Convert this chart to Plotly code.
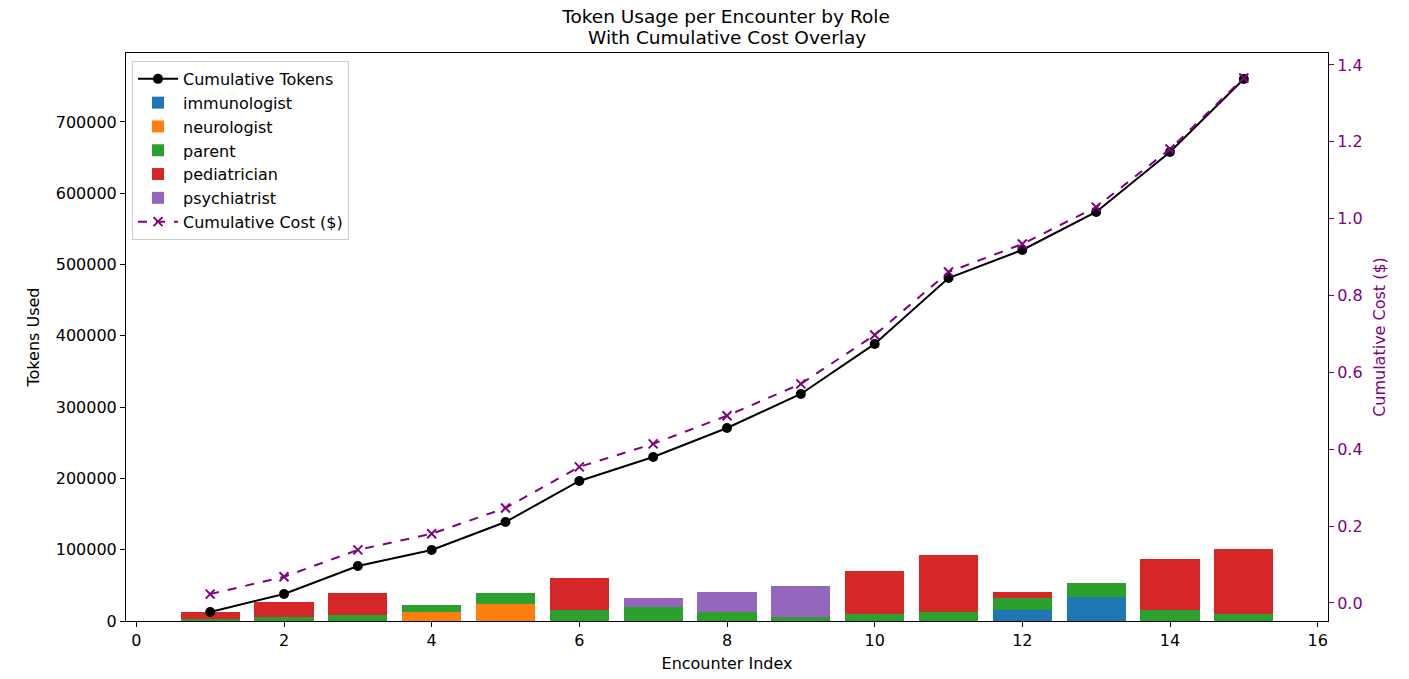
import plotly.graph_objects as go

encounters = list(range(1, 16))
roles = ["immunologist", "neurologist", "parent", "pediatrician", "psychiatrist"]
role_colors = ["#1f77b4", "#ff7f0e", "#2ca02c", "#d62728", "#9467bd"]

immunologist = [0, 0, 0, 0, 0, 0, 0, 0, 0, 0, 0, 15900, 33700, 0, 0]
neurologist = [0, 0, 0, 13000, 24300, 0, 0, 0, 0, 0, 0, 0, 0, 0, 0]
parent = [2800, 6000, 8000, 9400, 14500, 15900, 19200, 13100, 6100, 9400, 13100, 16800, 19600, 15900, 9400]
pediatrician = [10000, 20200, 30800, 0, 0, 44000, 0, 0, 0, 60300, 79500, 8000, 0, 70600, 91200]
psychiatrist = [0, 0, 0, 0, 0, 0, 13100, 27600, 42600, 0, 0, 0, 0, 0, 0]

cumulative_tokens = [12600, 37900, 77100, 99600, 138900, 196400, 230000, 270700,
                     318400, 388600, 481100, 520400, 573700, 657900, 760300]
cumulative_cost = [0.023, 0.068, 0.138, 0.180, 0.247, 0.354, 0.414, 0.487,
                   0.570, 0.697, 0.861, 0.934, 1.030, 1.181, 1.366]

title_line1 = "Token Usage per Encounter by Role"
title_line2 = "With Cumulative Cost Overlay"

role_values = [immunologist, neurologist, parent, pediatrician, psychiatrist]

FONT = "DejaVu Sans"
FS = 16
fig = go.Figure()

fig.add_trace(go.Scatter(
    x=encounters, y=cumulative_tokens, name="Cumulative Tokens",
    mode="lines+markers", line=dict(color="black", width=2),
    marker=dict(color="black", size=10), yaxis="y", legendgroup="g0"))

for i, (role, col, vals) in enumerate(zip(roles, role_colors, role_values)):
    fig.add_trace(go.Bar(
        x=encounters, y=vals, name=role, width=0.8,
        marker=dict(color=col, line=dict(width=0)), yaxis="y",
        legendgroup="g%d" % (i + 1)))

fig.add_trace(go.Scatter(
    x=encounters, y=cumulative_cost, name="Cumulative Cost ($)",
    mode="lines+markers", line=dict(color="purple", width=2, dash="dash"),
    marker=dict(symbol="x-thin", size=9, color="purple",
                line=dict(color="purple", width=2)),
    yaxis="y2", legendgroup="g6"))

fig.update_layout(
    width=1409, height=679,
    barmode="stack",
    plot_bgcolor="white", paper_bgcolor="white",
    font=dict(family=FONT, size=FS, color="black"),
    margin=dict(l=126, r=81, t=53, b=58, autoexpand=False),
    title=dict(text=title_line1,
               x=726 / 1409, xanchor="center", yref="container",
               y=1 - 16.5 / 679, yanchor="middle",
               font=dict(family=FONT, size=18.5, color="black")),
    annotations=[dict(text=title_line2, xref="paper", yref="paper",
                      x=0.5, xanchor="center", y=1 + 15.5 / 568, yanchor="middle",
                      showarrow=False, font=dict(family=FONT, size=18.5, color="black"))],
    xaxis=dict(range=[-0.14, 16.14], tickmode="array", tickvals=list(range(0, 17, 2)),
               showgrid=False, zeroline=False, showline=True, mirror=True,
               linecolor="black", linewidth=1, ticks="outside", ticklen=5,
               tickcolor="black",
               title=dict(text="Encounter Index", font=dict(size=FS), standoff=8)),
    yaxis=dict(range=[0, 796700], tickmode="array",
               tickvals=[0, 100000, 200000, 300000, 400000, 500000, 600000, 700000],
               tickformat="d", showgrid=False, zeroline=False, showline=True,
               linecolor="black", linewidth=1, ticks="outside", ticklen=5,
               tickcolor="black",
               title=dict(text="Tokens Used", font=dict(size=FS), standoff=12)),
    yaxis2=dict(range=[-0.047, 1.431], overlaying="y", side="right",
                tickmode="array", tickvals=[0, 0.2, 0.4, 0.6, 0.8, 1.0, 1.2, 1.4],
                tickformat=".1f", showgrid=False, zeroline=False, showline=True,
                linecolor="black", linewidth=1, ticks="outside", ticklen=5,
                tickcolor="purple", tickfont=dict(color="purple"),
                title=dict(text="Cumulative Cost ($)", font=dict(size=FS, color="purple"),
                           standoff=12)),
    legend=dict(x=0.005, y=0.986, xanchor="left", yanchor="top",
                bgcolor="rgba(255,255,255,0.8)", bordercolor="#cccccc", borderwidth=1,
                font=dict(size=FS), traceorder="grouped", tracegroupgap=0,
                itemwidth=40),
    showlegend=True,
)

fig.write_html("out.html", config={"displayModeBar": False},
               post_script="document.body.style.margin='0';")
